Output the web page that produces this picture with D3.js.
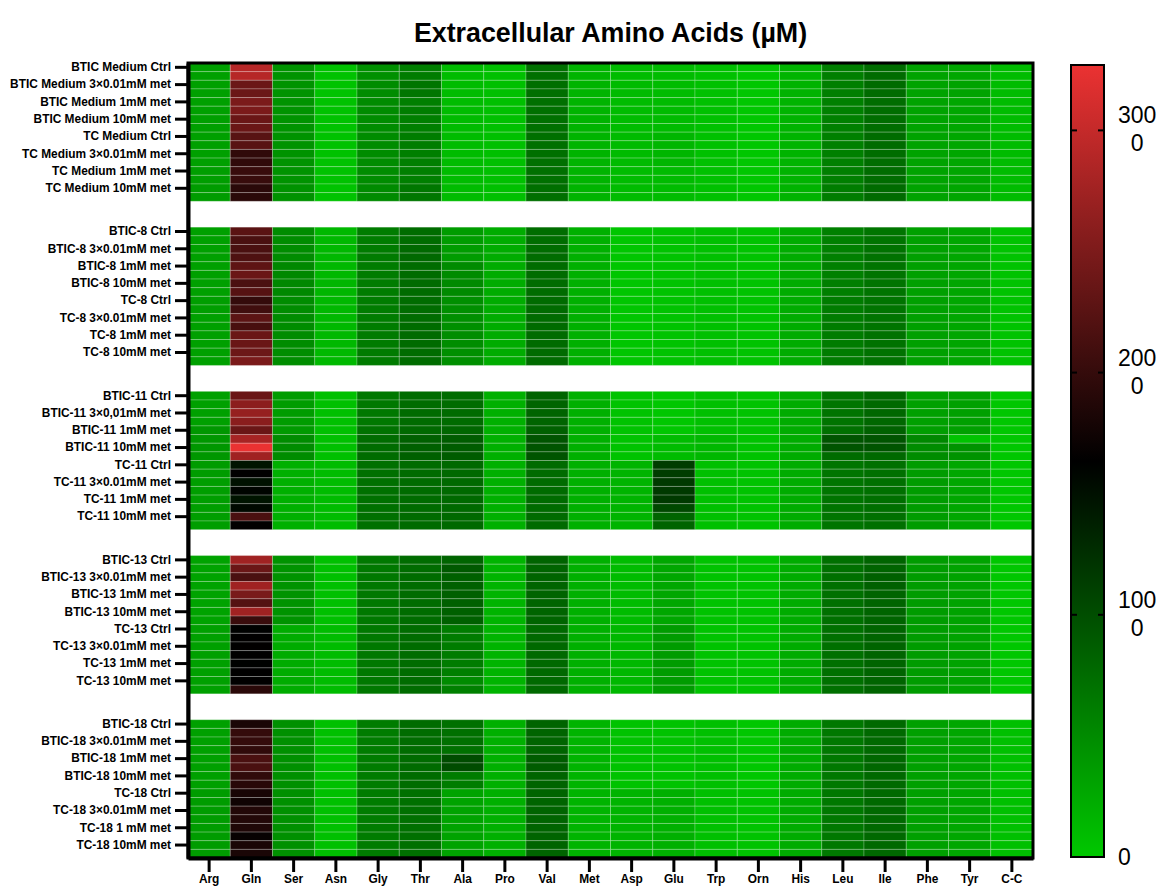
<!DOCTYPE html>
<meta charset="utf-8">
<title>Extracellular Amino Acids</title>
<style>

body {
  margin: 0;
  background: #fff;
}

text {
  font-family: "Liberation Sans", Arial, Helvetica, sans-serif;
  fill: #000;
}

.title {
  font-size: 26.8px;
  font-weight: bold;
}

.rows text,
.cols text {
  font-size: 11.9px;
  font-weight: bold;
}

.rows line,
.cols line {
  stroke: #000;
  stroke-width: 3px;
}

.rows path,
.cols path {
  stroke: #000;
  stroke-width: 4px;
}

.cell {
  stroke: #fff;
  stroke-opacity: 0.22;
  stroke-width: 1px;
}

.legend text {
  font-size: 23px;
}

</style>
<svg width="1159" height="886"></svg>
<script src="https://d3js.org/d3.v7.min.js"></script>
<script>

var aminoAcids = ["Arg", "Gln", "Ser", "Asn", "Gly", "Thr", "Ala", "Pro", "Val", "Met",
                  "Asp", "Glu", "Trp", "Orn", "His", "Leu", "Ile", "Phe", "Tyr", "C-C"];

// only every other row carries a label in the original figure
var sampleLabels = [
  "BTIC Medium Ctrl", "BTIC Medium 3×0.01mM met", "BTIC Medium 1mM met", "BTIC Medium 10mM met",
  "TC Medium Ctrl", "TC Medium 3×0.01mM met", "TC Medium 1mM met", "TC Medium 10mM met",
  "BTIC-8 Ctrl", "BTIC-8 3×0.01mM met", "BTIC-8 1mM met", "BTIC-8 10mM met",
  "TC-8 Ctrl", "TC-8 3×0.01mM met", "TC-8 1mM met", "TC-8 10mM met",
  "BTIC-11 Ctrl", "BTIC-11 3×0,01mM met", "BTIC-11 1mM met", "BTIC-11 10mM met",
  "TC-11 Ctrl", "TC-11 3×0.01mM met", "TC-11 1mM met", "TC-11 10mM met",
  "BTIC-13 Ctrl", "BTIC-13 3×0.01mM met", "BTIC-13 1mM met", "BTIC-13 10mM met",
  "TC-13 Ctrl", "TC-13 3×0.01mM met", "TC-13 1mM met", "TC-13 10mM met",
  "BTIC-18 Ctrl", "BTIC-18 3×0.01mM met", "BTIC-18 1mM met", "BTIC-18 10mM met",
  "TC-18 Ctrl", "TC-18 3×0.01mM met", "TC-18 1 mM met", "TC-18 10mM met"
];

// µM, columns in aminoAcids order, 16 rows per block
var mediumRows = [
  [330, 2900, 430, 45, 460, 600, 100, 65, 720, 165, 100, 100, 60, 10, 165, 600, 740, 300, 270, 100],
  [330, 2900, 430, 45, 460, 620, 100, 65, 720, 165, 100, 100, 60, 10, 165, 600, 750, 300, 270, 100],
  [330, 2380, 430, 40, 490, 680, 100, 65, 730, 165, 105, 100, 60, 10, 170, 600, 760, 300, 300, 100],
  [330, 2380, 430, 40, 490, 670, 100, 65, 730, 165, 105, 100, 60, 10, 170, 600, 760, 300, 300, 100],
  [330, 2490, 430, 45, 500, 600, 100, 65, 720, 165, 100, 110, 60, 10, 165, 590, 740, 300, 270, 100],
  [330, 2490, 430, 45, 500, 610, 100, 65, 720, 165, 100, 110, 60, 10, 165, 590, 740, 300, 270, 100],
  [335, 2370, 430, 45, 490, 600, 105, 65, 720, 170, 100, 110, 60, 10, 170, 590, 740, 300, 270, 100],
  [335, 2370, 430, 45, 490, 600, 105, 65, 720, 170, 100, 110, 60, 10, 170, 590, 740, 300, 270, 100],
  [330, 2250, 430, 45, 490, 610, 100, 65, 720, 165, 110, 150, 60, 10, 165, 590, 750, 300, 270, 100],
  [330, 2250, 430, 45, 490, 610, 100, 65, 720, 165, 110, 150, 60, 10, 165, 590, 750, 300, 270, 100],
  [330, 1970, 430, 45, 490, 600, 100, 65, 720, 165, 110, 150, 60, 10, 165, 590, 740, 300, 270, 100],
  [330, 1970, 430, 45, 490, 600, 100, 65, 720, 165, 110, 150, 60, 10, 165, 590, 740, 300, 270, 100],
  [340, 2025, 430, 45, 490, 600, 100, 65, 720, 165, 100, 110, 60, 10, 170, 600, 750, 300, 280, 100],
  [340, 2025, 430, 45, 490, 600, 100, 65, 720, 165, 100, 110, 60, 10, 170, 600, 750, 300, 280, 100],
  [360, 1930, 440, 40, 500, 660, 100, 65, 730, 165, 100, 100, 60, 10, 170, 610, 760, 300, 280, 100],
  [360, 1930, 440, 40, 500, 660, 100, 65, 730, 165, 100, 100, 60, 10, 170, 610, 760, 300, 280, 100]
];

var line8Rows = [
  [330, 2260, 490, 130, 620, 750, 360, 230, 740, 200, 20, 40, 65, 40, 230, 590, 680, 330, 270, 40],
  [330, 2150, 490, 130, 620, 750, 360, 230, 740, 200, 20, 40, 65, 40, 230, 590, 690, 330, 270, 40],
  [330, 2150, 490, 130, 630, 780, 360, 230, 750, 200, 20, 40, 65, 40, 230, 590, 700, 330, 270, 40],
  [330, 2180, 490, 130, 630, 780, 360, 230, 750, 200, 20, 40, 65, 40, 230, 590, 700, 330, 270, 40],
  [330, 2290, 520, 130, 620, 750, 500, 230, 750, 200, 20, 40, 65, 40, 230, 590, 690, 330, 270, 40],
  [330, 2370, 520, 130, 620, 750, 500, 230, 750, 200, 20, 40, 65, 40, 230, 590, 690, 330, 270, 40],
  [330, 2160, 520, 150, 620, 760, 510, 230, 750, 200, 20, 40, 65, 40, 230, 600, 690, 330, 280, 40],
  [330, 2230, 520, 150, 620, 760, 510, 230, 750, 200, 20, 40, 65, 40, 230, 600, 690, 330, 280, 40],
  [340, 2000, 490, 130, 620, 750, 470, 230, 760, 200, 20, 40, 65, 40, 230, 620, 690, 330, 270, 40],
  [340, 2080, 490, 130, 620, 750, 470, 230, 760, 200, 20, 40, 65, 40, 230, 620, 690, 330, 270, 40],
  [330, 2275, 490, 130, 620, 750, 470, 230, 760, 200, 20, 40, 65, 40, 230, 620, 690, 330, 270, 40],
  [330, 2135, 490, 130, 620, 750, 470, 230, 760, 200, 20, 40, 65, 40, 230, 620, 690, 330, 270, 40],
  [330, 2370, 490, 130, 630, 760, 480, 230, 760, 200, 20, 40, 65, 40, 230, 620, 700, 330, 280, 40],
  [330, 2370, 490, 130, 630, 760, 480, 230, 760, 200, 20, 40, 65, 40, 230, 620, 700, 330, 280, 40],
  [330, 2385, 480, 120, 630, 750, 470, 230, 760, 200, 20, 40, 65, 40, 230, 620, 700, 330, 270, 40],
  [330, 2485, 480, 120, 630, 750, 470, 230, 760, 200, 20, 40, 65, 40, 230, 620, 700, 330, 270, 40]
];

var line11Rows = [
  [330, 2370, 360, 65, 650, 750, 750, 200, 820, 200, 40, 10, 65, 40, 230, 680, 780, 330, 330, 10],
  [330, 2610, 360, 65, 650, 750, 750, 200, 820, 200, 40, 10, 65, 40, 230, 680, 780, 330, 330, 10],
  [330, 2680, 360, 65, 650, 760, 760, 200, 820, 200, 40, 10, 65, 40, 230, 690, 790, 330, 330, 10],
  [330, 2595, 360, 65, 650, 760, 760, 200, 820, 200, 40, 10, 65, 40, 230, 690, 790, 330, 330, 10],
  [400, 2370, 380, 65, 700, 780, 800, 200, 850, 200, 40, 10, 65, 40, 230, 720, 840, 340, 330, 10],
  [400, 2800, 490, 65, 750, 850, 880, 200, 950, 200, 40, 100, 130, 40, 230, 950, 950, 520, 40, 10],
  [400, 3260, 490, 65, 750, 850, 880, 200, 950, 200, 40, 100, 130, 40, 230, 950, 950, 490, 430, 10],
  [400, 2750, 490, 65, 750, 850, 880, 200, 950, 200, 40, 100, 130, 40, 230, 750, 780, 490, 430, 10],
  [360, 1470, 200, 100, 720, 760, 780, 200, 760, 200, 165, 1140, 65, 40, 230, 680, 720, 360, 270, 10],
  [360, 1640, 200, 100, 720, 760, 780, 200, 760, 200, 165, 1140, 65, 40, 230, 680, 720, 360, 270, 10],
  [340, 1500, 200, 100, 720, 760, 780, 200, 760, 200, 165, 1170, 65, 40, 230, 680, 720, 360, 270, 10],
  [340, 1600, 200, 100, 720, 760, 780, 200, 760, 200, 165, 1170, 65, 40, 230, 680, 720, 360, 270, 10],
  [340, 1470, 200, 100, 720, 760, 780, 200, 760, 200, 165, 1170, 65, 40, 230, 690, 730, 360, 270, 10],
  [340, 1560, 200, 100, 720, 760, 780, 200, 760, 200, 165, 1050, 65, 40, 230, 690, 730, 360, 270, 10],
  [340, 2150, 200, 100, 720, 760, 780, 200, 760, 200, 165, 820, 65, 40, 230, 680, 720, 360, 270, 10],
  [340, 1640, 200, 100, 720, 760, 780, 200, 760, 200, 165, 820, 65, 40, 230, 680, 720, 360, 270, 10]
];

var line13Rows = [
  [300, 2750, 430, 65, 650, 750, 820, 165, 820, 200, 100, 270, 40, 40, 230, 720, 820, 360, 300, 10],
  [300, 2370, 430, 65, 650, 750, 910, 165, 820, 200, 100, 270, 40, 40, 230, 720, 820, 360, 300, 10],
  [300, 2150, 430, 65, 650, 750, 850, 165, 820, 200, 100, 270, 40, 40, 230, 720, 850, 360, 300, 10],
  [300, 2750, 430, 65, 650, 750, 850, 165, 820, 200, 100, 270, 40, 40, 230, 720, 850, 360, 300, 10],
  [300, 2480, 430, 65, 650, 750, 850, 165, 820, 200, 100, 270, 40, 40, 230, 720, 820, 360, 300, 10],
  [300, 2220, 430, 65, 650, 750, 850, 165, 820, 200, 100, 270, 40, 40, 230, 720, 820, 360, 300, 10],
  [300, 2750, 430, 65, 650, 750, 850, 165, 820, 200, 100, 270, 40, 40, 230, 720, 820, 360, 300, 10],
  [300, 2040, 430, 65, 650, 750, 850, 165, 820, 200, 100, 270, 40, 40, 230, 720, 820, 360, 300, 10],
  [330, 1630, 230, 100, 650, 750, 620, 165, 780, 200, 130, 360, 40, 40, 230, 720, 820, 360, 300, 10],
  [330, 1640, 230, 100, 650, 750, 620, 165, 780, 200, 130, 360, 40, 40, 230, 720, 820, 360, 300, 10],
  [330, 1640, 230, 100, 650, 750, 620, 165, 780, 200, 130, 360, 40, 40, 230, 720, 820, 360, 300, 10],
  [330, 1640, 230, 100, 650, 750, 620, 165, 780, 200, 130, 360, 40, 40, 230, 720, 820, 360, 300, 10],
  [330, 1630, 230, 100, 650, 750, 620, 165, 780, 200, 130, 360, 40, 40, 230, 720, 820, 360, 300, 10],
  [330, 1640, 230, 100, 650, 750, 600, 165, 780, 200, 130, 360, 40, 40, 230, 720, 820, 360, 300, 10],
  [330, 1640, 230, 100, 650, 750, 500, 165, 780, 200, 130, 360, 40, 40, 230, 720, 820, 360, 300, 10],
  [330, 1930, 230, 100, 650, 750, 590, 165, 780, 200, 130, 360, 40, 40, 230, 720, 820, 360, 300, 10]
];

var line18Rows = [
  [330, 1815, 460, 65, 620, 750, 720, 200, 820, 165, 40, 40, 65, 10, 230, 650, 780, 330, 270, 65],
  [330, 2000, 460, 65, 620, 750, 720, 200, 820, 165, 40, 40, 65, 10, 230, 650, 780, 330, 270, 65],
  [330, 2000, 460, 65, 620, 750, 720, 200, 820, 165, 40, 40, 65, 10, 230, 650, 780, 330, 270, 65],
  [330, 1970, 460, 65, 620, 750, 720, 200, 820, 165, 40, 40, 65, 10, 230, 650, 780, 330, 270, 65],
  [330, 2150, 460, 65, 620, 760, 1010, 200, 880, 165, 40, 40, 65, 10, 230, 650, 790, 330, 270, 65],
  [330, 2150, 460, 65, 620, 760, 1010, 200, 880, 165, 40, 40, 65, 10, 230, 650, 790, 330, 270, 65],
  [330, 1970, 460, 65, 620, 750, 620, 200, 820, 165, 40, 40, 65, 10, 230, 650, 780, 330, 270, 65],
  [330, 1910, 460, 65, 620, 750, 620, 200, 820, 165, 40, 40, 65, 10, 230, 650, 780, 330, 270, 65],
  [360, 1800, 460, 65, 620, 720, 300, 200, 820, 165, 165, 200, 65, 40, 230, 650, 780, 330, 270, 65],
  [360, 1745, 460, 65, 620, 720, 300, 200, 820, 165, 165, 200, 65, 40, 230, 650, 780, 330, 270, 65],
  [360, 1870, 460, 65, 620, 720, 300, 200, 820, 165, 165, 200, 65, 40, 230, 650, 780, 330, 270, 65],
  [360, 1870, 460, 65, 620, 720, 300, 200, 820, 165, 165, 200, 65, 40, 230, 650, 780, 330, 270, 65],
  [360, 1850, 460, 65, 620, 720, 300, 200, 820, 165, 165, 200, 65, 40, 230, 650, 780, 330, 270, 65],
  [360, 1690, 460, 65, 620, 720, 300, 200, 820, 165, 165, 200, 65, 40, 230, 650, 780, 330, 270, 65],
  [360, 1815, 460, 65, 620, 720, 300, 200, 820, 165, 165, 200, 65, 40, 230, 650, 780, 330, 270, 65],
  [360, 1815, 460, 65, 620, 720, 300, 200, 820, 165, 165, 200, 65, 40, 230, 650, 780, 330, 270, 65]
];

var blocks = [mediumRows, line8Rows, line11Rows, line13Rows, line18Rows];
var legendTicks = [0, 1000, 2000, 3000];
var colorStops = [0, 1635, 3270];

var svg = d3.select("svg"),
    plotL = 188, plotR = 1033, plotT = 63, plotB = 858,
    gap = 3;

var cells = [], labelBySlot = {}, labelSlots = [];
var perBlock = mediumRows.length + gap;

blocks.forEach(function(rows, b) {
  rows.forEach(function(vals, r) {
    var slot = b * perBlock + r;
    if (r % 2 == 0) {
      labelBySlot[slot] = sampleLabels[b * 8 + r / 2];
      labelSlots.push(slot);
    }
    vals.forEach(function(v, c) {
      cells.push({slot: slot, aa: aminoAcids[c], value: v});
    });
  });
});

var nSlots = blocks.length * perBlock - gap;

var x = d3.scaleBand().domain(aminoAcids).range([plotL, plotR]);
var y = d3.scaleBand().domain(d3.range(nSlots)).range([plotT, plotB]);

var color = d3.scaleLinear()
    .domain(colorStops)
    .range(["#00c800", "#000000", "#eb3232"])
    .clamp(true);

svg.append("text")
    .attr("class", "title")
    .attr("x", (plotL + plotR) / 2)
    .attr("y", 42)
    .attr("text-anchor", "middle")
    .text("Extracellular Amino Acids (µM)");

svg.append("g")
  .selectAll("rect")
  .data(cells)
  .enter().append("rect")
    .attr("class", "cell")
    .attr("x", function(d) { return x(d.aa); })
    .attr("y", function(d) { return y(d.slot); })
    .attr("width", x.bandwidth())
    .attr("height", y.bandwidth())
    .attr("fill", function(d) { return color(d.value); });

// frame
svg.append("rect")
    .attr("x", plotL)
    .attr("y", plotT)
    .attr("width", plotR - plotL)
    .attr("height", plotB - plotT)
    .attr("fill", "none")
    .attr("stroke", "#000")
    .attr("stroke-width", 3);

svg.append("g")
    .attr("class", "rows")
    .attr("transform", "translate(" + plotL + ",0)")
    .call(d3.axisLeft(y)
        .tickValues(labelSlots)
        .tickFormat(function(s) { return labelBySlot[s]; })
        .tickSize(13)
        .tickSizeOuter(0)
        .tickPadding(4));

svg.append("g")
    .attr("class", "cols")
    .attr("transform", "translate(0," + plotB + ")")
    .call(d3.axisBottom(x)
        .tickSize(14)
        .tickSizeOuter(0)
        .tickPadding(3));

svg.selectAll(".rows, .cols").attr("font-family", null).attr("font-size", null);

// colour legend
var legX = 1071, legW = 33;
var legY = d3.scaleLinear().domain([0, colorStops[2]]).range([857, 65]);

var grad = svg.append("defs").append("linearGradient")
    .attr("id", "legGrad")
    .attr("x1", 0).attr("y1", 1)
    .attr("x2", 0).attr("y2", 0);

grad.selectAll("stop")
  .data(colorStops)
  .enter().append("stop")
    .attr("offset", function(d) { return d / colorStops[2]; })
    .attr("stop-color", function(d) { return color(d); });

var legend = svg.append("g").attr("class", "legend");

legend.append("rect")
    .attr("x", legX)
    .attr("y", legY(colorStops[2]))
    .attr("width", legW)
    .attr("height", legY(0) - legY(colorStops[2]))
    .attr("fill", "url(#legGrad)")
    .attr("stroke", "#000")
    .attr("stroke-width", 2);

legend.selectAll(".tickL")
  .data(legendTicks.slice(1))
  .enter().append("line")
    .attr("x1", legX).attr("x2", legX + 6)
    .attr("y1", function(d) { return legY(d); })
    .attr("y2", function(d) { return legY(d); })
    .attr("stroke", "#000").attr("stroke-width", 2);

legend.selectAll(".tickR")
  .data(legendTicks.slice(1))
  .enter().append("line")
    .attr("x1", legX + legW - 6).attr("x2", legX + legW)
    .attr("y1", function(d) { return legY(d); })
    .attr("y2", function(d) { return legY(d); })
    .attr("stroke", "#000").attr("stroke-width", 2);

// the labels wrap after three digits, each line centred on the first
legend.selectAll(".leglab")
  .data(legendTicks)
  .enter().append("text")
    .attr("class", "leglab")
    .each(function(d) {
      var s = String(d), parts = [];
      for (var i = 0; i < s.length; i += 3) parts.push(s.slice(i, i + 3));
      var t = d3.select(this);
      var first = t.append("tspan").text(parts[0]);
      var w = first.node().getComputedTextLength();
      t.attr("text-anchor", "middle");
      var cx = 1118 + w / 2;
      var y0 = legY(d) + (parts.length > 1 ? -7 : 8);
      first.attr("x", cx).attr("y", y0);
      for (var j = 1; j < parts.length; j++) {
        t.append("tspan").attr("x", cx).attr("y", y0 + 28 * j).text(parts[j]);
      }
    });

</script>
